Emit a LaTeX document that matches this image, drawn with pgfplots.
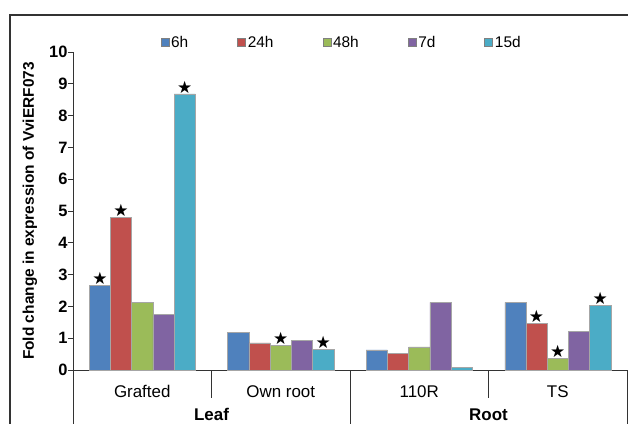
\documentclass[border=0pt]{standalone}
\usepackage{fontspec}
\setmainfont{Liberation Sans}
\newfontfamily\symfont{DejaVu Sans}
\usepackage{pgfplots}
\pgfplotsset{compat=1.18}
\definecolor{c1}{HTML}{4F81BD}
\definecolor{c2}{HTML}{C0504D}
\definecolor{c3}{HTML}{9BBB59}
\definecolor{c4}{HTML}{8064A2}
\definecolor{c5}{HTML}{4BACC6}
\protected\def\St{{\symfont\fontsize{17}{17}\selectfont ★}}
\def\No{}
\begin{document}
\begin{tikzpicture}[font=\fontsize{14}{16}\selectfont]
\useasboundingbox (-73bp,-54bp) rectangle (555bp,370bp);
\draw[line width=1.2bp, black!80] (-63bp,-80bp) rectangle (560bp,355bp);
\begin{axis}[
  at={(0,0)}, anchor=south west,
  scale only axis, width=554bp, height=318bp,
  xmin=-0.5, xmax=3.5, ymin=0, ymax=10,
  ytick={0,...,10},
  axis x line*=bottom, axis y line*=left,
  axis line style={black!80, line width=0.8bp},
  ybar=0pt, bar width=21.2bp,
  every axis plot/.append style={draw=gray!70, line width=0.5bp,
    legend image code/.code={\draw[##1, draw=gray, line width=0.5bp] (0bp,-4bp) rectangle (8bp,4bp);}},
  clip=false,
  xtick={0,1,2,3},
  xticklabels={Grafted, Own root, 110R, TS},
  x tick style={draw=none},
  xticklabel style={anchor=base, yshift=-22bp, font=\fontsize{17}{19}\selectfont},
  y tick style={black!80, line width=0.8bp},
  tick align=outside, major tick length=5bp,
  yticklabel style={font=\fontsize{16.5}{18}\selectfont\bfseries, xshift=3bp},
  /pgf/number format/assume math mode=true,
  ylabel={\bfseries Fold change in expression of VviERF073},
  every axis y label/.style={at={(axis description cs:0,0.5)}, rotate=90, anchor=center, yshift=43bp, font=\fontsize{15.5}{17}\selectfont},
  nodes near coords,
  point meta=explicit symbolic,
  every node near coord/.append style={anchor=south, inner sep=0.5bp, black},
  legend columns=5,
  legend style={draw=none, fill=none, at={(0.485,1.03)}, anchor=center,
    nodes={font=\fontsize{15.5}{17}\selectfont},
    /tikz/every even column/.append style={column sep=47bp}},
]
\addplot[fill=c1] coordinates {(0,2.66) [\St] (1,1.18) [\No] (2,0.63) [\No] (3,2.13) [\No]};
\addplot[fill=c2] coordinates {(0,4.80) [\St] (1,0.85) [\No] (2,0.53) [\No] (3,1.47) [\St]};
\addplot[fill=c3] coordinates {(0,2.13) [\No] (1,0.78) [\St] (2,0.73) [\No] (3,0.37) [\St]};
\addplot[fill=c4] coordinates {(0,1.75) [\No] (1,0.94) [\No] (2,2.13) [\No] (3,1.22) [\No]};
\addplot[fill=c5] coordinates {(0,8.68) [\St] (1,0.66) [\St] (2,0.08) [\No] (3,2.03) [\St]};
\legend{6h,24h,48h,7d,15d}
\draw[black!80, line width=0.8bp] (axis cs:0.5,0) -- ([yshift=-28bp]axis cs:0.5,0);
\draw[black!80, line width=0.8bp] (axis cs:2.5,0) -- ([yshift=-28bp]axis cs:2.5,0);
\draw[black!80, line width=0.8bp] (axis cs:-0.5,0) -- ([yshift=-70bp]axis cs:-0.5,0);
\draw[black!80, line width=0.8bp] (axis cs:1.5,0) -- ([yshift=-70bp]axis cs:1.5,0);
\draw[black!80, line width=0.8bp] (axis cs:3.5,0) -- ([yshift=-70bp]axis cs:3.5,0);
\node[anchor=base, font=\fontsize{17}{19}\selectfont\bfseries] at ([yshift=-50.5bp]axis cs:0.5,0) {Leaf};
\node[anchor=base, font=\fontsize{17}{19}\selectfont\bfseries] at ([yshift=-50.5bp]axis cs:2.5,0) {Root};
\end{axis}
\end{tikzpicture}
\end{document}
